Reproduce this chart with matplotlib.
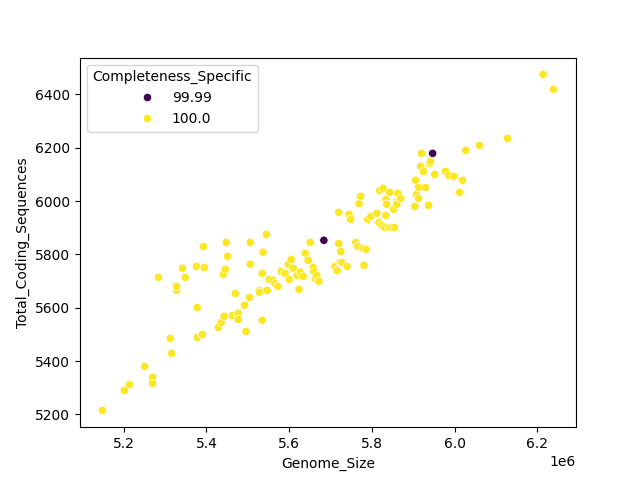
import numpy as np
import pandas as pd
import seaborn as sns
import matplotlib
matplotlib.use("Agg")
import matplotlib.pyplot as plt

genome_full = [
    5.149, 5.202, 5.214, 5.251, 5.270, 5.270, 5.284, 5.313, 5.316, 5.328,
    5.328, 5.342, 5.349, 5.376, 5.378, 5.378, 5.390, 5.395, 5.393, 5.429,
    5.436, 5.441, 5.443, 5.446, 5.448, 5.451, 5.463, 5.470, 5.477, 5.477,
    5.492, 5.496, 5.504, 5.506, 5.506, 5.528, 5.528, 5.535, 5.535, 5.537,
    5.545, 5.547, 5.552, 5.561, 5.566, 5.573, 5.581, 5.590, 5.598, 5.600,
    5.605, 5.610, 5.619, 5.624, 5.627, 5.634, 5.639, 5.646, 5.651, 5.658,
    5.660, 5.663, 5.667, 5.672, 5.711, 5.716, 5.720, 5.720, 5.723, 5.725,
    5.728, 5.740, 5.745, 5.749, 5.761, 5.766, 5.769, 5.773, 5.778, 5.781,
    5.786, 5.790, 5.798, 5.812, 5.817, 5.819, 5.824, 5.827, 5.831, 5.834,
    5.834, 5.836, 5.841, 5.843, 5.848, 5.853, 5.855, 5.860, 5.860, 5.863,
    5.870, 5.904, 5.906, 5.908, 5.913, 5.913, 5.918, 5.920, 5.925, 5.930,
    5.937, 5.940, 5.942, 5.952, 5.978, 5.986, 5.998, 6.012, 6.019, 6.027,
    6.060, 6.128, 6.214, 6.239,
]
cds_full = [
    5215, 5290, 5312, 5380, 5339, 5316, 5714, 5485, 5429, 5665,
    5680, 5748, 5714, 5755, 5601, 5489, 5500, 5751, 5830, 5526,
    5545, 5725, 5568, 5744, 5845, 5793, 5571, 5654, 5579, 5556,
    5609, 5511, 5639, 5763, 5845, 5665, 5658, 5553, 5729, 5808,
    5875, 5665, 5706, 5703, 5691, 5680, 5736, 5729, 5763, 5706,
    5781, 5748, 5721, 5669, 5733, 5718, 5804, 5778, 5845, 5751,
    5736, 5710, 5721, 5699, 5755, 5740, 5841, 5958, 5770, 5811,
    5770, 5755, 5950, 5931, 5845, 5830, 5991, 6018, 5823, 5759,
    5819, 5931, 5943, 5954, 5920, 6040, 5909, 6048, 5901, 6006,
    5946, 5988, 5901, 6033, 5901, 5969, 5901, 5995, 5988, 6029,
    6010, 5980, 6078, 6025, 6010, 6051, 6130, 6179, 6111, 6051,
    5984, 6141, 6149, 6100, 6111, 6096, 6093, 6033, 6078, 6190,
    6209, 6235, 6475, 6419,
]
genome_partial = [5.684, 5.947]
cds_partial = [5853, 6179]

df = pd.DataFrame({
    "Genome_Size": np.array(genome_full + genome_partial) * 1e6,
    "Total_Coding_Sequences": cds_full + cds_partial,
    "Completeness_Specific": [100.0] * len(genome_full) + [99.99] * len(genome_partial),
})

fig, ax = plt.subplots(figsize=(6.4, 4.8), dpi=100)
sns.scatterplot(data=df, x="Genome_Size", y="Total_Coding_Sequences",
                hue="Completeness_Specific", palette="viridis", ax=ax)
ax.set_yticks([5200, 5400, 5600, 5800, 6000, 6200, 6400])
plt.savefig("out.png", dpi=100)
